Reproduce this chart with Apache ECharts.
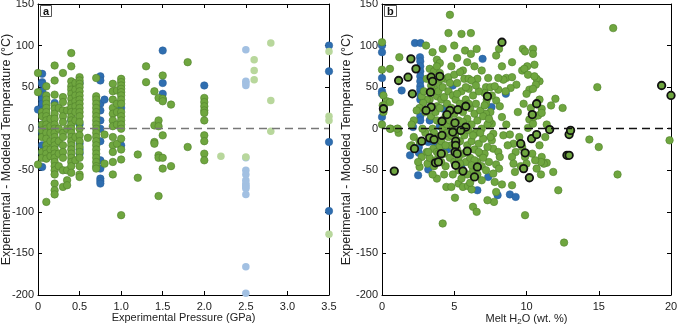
<!DOCTYPE html>
<html>
<head>
<meta charset="utf-8">
<script src="https://cdn.jsdelivr.net/npm/echarts@6/dist/echarts.min.js"></script>
<style>
  html, body { margin: 0; padding: 0; background: #fff; }
  #chart { width: 677px; height: 326px; }
</style>
</head>
<body>
<div id="chart"></div>
<script>
// panel a: pressure (GPa) vs temperature residual (°C)
var pTicks = [0, 0.5, 1.0, 1.5, 2.0, 2.5, 3.0, 3.5];
var wTicks = [0, 5, 10, 15, 20];
var tTicks = [-200, -150, -100, -50, 0, 50, 100, 150];

var aBlue = [
  [0,23],[0.05,66],[0.05,56],[0.05,54],[0.05,45],[0.05,40],[0.05,35],[0.05,30],[0.05,22],[0.05,5],[0.05,0],[0.05,-5],[0.05,-20],[0.05,-29],[0.05,-46],
  [0.2,31],[0.2,-20],[0.4,10],[0.5,55],[0.5,5],[0.5,-18],[0.5,-25],[0.5,-30],
  [0.75,63],[0.75,58],[0.75,30],[0.75,22],[0.75,10],[0.75,0],[0.75,-15],[0.75,-38],[0.75,-48],[0.75,-60],[0.75,-63],[0.75,-66],
  [0.8,35],[1.0,25],[1.0,-20],[1.5,94],[1.5,55],[1.5,42],[1.5,35],[2.0,52],
  [3.5,100],[3.5,69],[3.5,-16],[3.5,-99]
];
var aGreen = [
  [0,67],[0,44],[0,-43],
  [0.05,20],[0.05,15],[0.05,5],[0.05,-2],[0.05,-10],[0.05,-28],[0.05,-35],
  [0.1,51],[0.1,40],[0.1,35],[0.1,30],[0.1,25],[0.1,20],[0.1,15],[0.1,10],[0.1,5],[0.1,0],[0.1,-5],[0.1,-12],[0.1,-20],[0.1,-25],[0.1,-30],[0.1,-36],[0.1,-88],
  [0.15,12],[0.15,3],[0.15,-5],[0.15,-15],[0.15,-25],[0.15,-33],
  [0.2,76],[0.2,58],[0.2,41],[0.2,28],[0.2,24],[0.2,18],[0.2,12],[0.2,5],[0.2,0],[0.2,-5],[0.2,-10],[0.2,-15],[0.2,-20],[0.2,-25],[0.2,-30],[0.2,-35],[0.2,-40],[0.2,-45],[0.2,-50],[0.2,-55],[0.2,-66],[0.2,-74],[0.2,-79],
  [0.25,25],[0.25,0],[0.25,-15],[0.25,-30],[0.25,-45],
  [0.3,67],[0.3,38],[0.3,32],[0.3,22],[0.3,15],[0.3,8],[0.3,-5],[0.3,-10],[0.3,-20],[0.3,-28],[0.3,-35],[0.3,-50],[0.3,-70],
  [0.35,22],[0.35,0],[0.35,-50],[0.35,-62],[0.35,-68],
  [0.4,91],[0.4,75],[0.4,57],[0.4,51],[0.4,47],[0.4,42],[0.4,36],[0.4,30],[0.4,25],[0.4,20],[0.4,14],[0.4,10],[0.4,5],[0.4,0],[0.4,-5],[0.4,-10],[0.4,-15],[0.4,-20],[0.4,-25],[0.4,-30],[0.4,-35],[0.4,-40],[0.4,-45],[0.4,-53],
  [0.45,55],[0.45,47],[0.45,40],[0.45,33],[0.45,27],[0.45,20],[0.45,10],[0.45,-10],[0.45,-38],
  [0.5,62],[0.5,58],[0.5,54],[0.5,50],[0.5,45],[0.5,40],[0.5,35],[0.5,30],[0.5,25],[0.5,20],[0.5,15],[0.5,8],[0.5,0],[0.5,-8],[0.5,-15],[0.5,-22],[0.5,-28],[0.5,-35],[0.5,-45],[0.5,-55],[0.5,-58],
  [0.6,-11],
  [0.7,61],[0.7,39],[0.7,35],[0.7,30],[0.7,25],[0.7,20],[0.7,15],[0.7,10],[0.7,5],[0.7,0],[0.7,-5],[0.7,-10],[0.7,-15],[0.7,-20],[0.7,-25],[0.7,-30],[0.7,-35],[0.7,-40],[0.7,-45],[0.7,-48],
  [0.8,-7],[0.8,-42],
  [0.9,54],[0.9,45],[0.9,35],[0.9,25],[0.9,18],[0.9,10],[0.9,3],[0.9,-10],[0.9,-20],[0.9,-28],[0.9,-40],[0.9,-55],
  [0.95,46],[0.95,30],[0.95,20],[0.95,5],[0.95,-18],
  [1.0,60],[1.0,56],[1.0,52],[1.0,48],[1.0,44],[1.0,40],[1.0,35],[1.0,30],[1.0,20],[1.0,15],[1.0,10],[1.0,5],[1.0,0],[1.0,-12],[1.0,-25],[1.0,-37],[1.0,-104],
  [1.2,-31],[1.2,-59],[1.3,75],[1.3,56],
  [1.4,45],[1.4,4],[1.4,-16],[1.4,-18],
  [1.45,37],[1.45,10],[1.45,3],[1.45,-32],[1.45,-35],[1.45,-81],
  [1.5,64],[1.5,36],[1.5,33],[1.5,-8],[1.5,-35],[1.5,-48],
  [1.6,29],[1.6,-45],[1.8,80],[1.8,-22],
  [2.0,37],[2.0,32],[2.0,27],[2.0,22],[2.0,19],[2.0,10],[2.0,-8],[2.0,-15],[2.0,-30],[2.0,-38]
];
var aLightBlue = [
  [2.5,95],[2.5,57],[2.5,55],[2.5,52],[2.5,-35],[2.5,-50],[2.5,-55],[2.5,-62],[2.5,-66],[2.5,-68],[2.5,-70],[2.5,-72],[2.5,-79],[2.5,-166],[2.5,-198]
];
var aLightGreen = [
  [2.2,-33],[2.5,-34],[2.6,83],[2.6,70],[2.6,59],[2.8,103],[2.8,34],[2.8,-3],[3.5,93],[3.5,15],[3.5,10],[3.5,-127]
];

// panel b: melt H2O (wt. %) vs temperature residual (°C)
var bBlue = [
  [0,100],[0,92],[0,61],[0,45],[0,42],[0,14],[1.36,46],[2.28,103],[2.67,103],[2.63,86],[2.65,81],[2.65,75],[2.65,69],[2.65,63],
  [2.65,57],[2.65,51],[2.65,47],[2.65,41],[2.65,35],[2.65,15],[2.65,10],[2.15,2],[1.94,-32],[2.5,-56],[3.2,-49],[2.55,-29],[2.55,-22],
  [3.2,-16],[4.9,52],[6.96,84],[8.57,42],[7.58,26],[6.6,-74],[7.35,-58],[8.85,-79],[9.25,-82],[8.0,-80],[4.25,24],[3.3,10],[4.0,3],
  [5.05,-10],[4.5,-25],[5.5,-47],[3.6,-16]
];
var bGreen = [
  [0,104],[0,71],[0.1,40],[0.05,28],[0.1,20],[0,5],[0.55,72],[0.6,0],[1.1,0],[1.15,-5],[0.35,33],[1.2,86],
  [4.7,137],[4.6,115],[5.5,114],[6.15,115],[4.2,96],[3.05,100],[3.5,92],[5.75,94],[6.15,90],[6.55,96],[8.1,96],[9.75,96],[10.45,96],
  [10.45,90],[9.9,93],[9.0,80],[5.9,80],[3.8,83],[4.0,79],[3.3,72],[3.6,69],[3.8,75],[4.0,67],[3.65,47],[3.8,39],[4.1,35],[3.8,27],
  [3.3,35],[3.1,35],[2.75,39],[2.85,31],[2.6,25],[2.2,10],[2.05,-20],[2.75,-34],[2.6,-46],[3.15,-42],[3.8,-60],[3.1,-28],[3.55,-24],
  [3.8,-28],[4.0,-21],[4.45,-70],[4.8,-70],[5.05,-83],[5.3,-66],[5.6,-70],[5.95,-69],[6.2,-73],[6.3,-94],[6.55,-100],[0.15,28],
  [0.55,32],[0.55,0],[1.05,0],[1.95,-21],[2.05,5],
  [14.9,50],[16.0,121],[16.3,-55],[14.35,-13],[15.0,-22],[19.9,-14],[20.15,-44],[12.2,-74],[12.6,-137],[9.9,-104],[4.2,-114],
  [12.5,25],[12.0,36],[11.7,28],[11.85,-52],[11.4,-41],[11.05,-34],[11.2,-42],[11.0,-40],[11.0,-55],[11.05,24],[10.9,57],[10.7,60],
  [10.2,47],[10.55,77],[10.05,75],[9.7,70],[9.85,72],[10.1,65],[10.55,63],[10.65,53],[10.45,48],[10.0,42],[10.2,11],[10.1,1],[10.45,6],
  [10.5,14],[10.8,16],[11.05,19],[10.3,25],[9.3,53],[8.9,49],[8.6,61],[8.4,59],[8.05,61],[8.05,47],[8.55,45],[7.35,61],[7.2,50],
  [7.5,50],[7.8,51],[7.1,43],[7.25,35],[7.9,34],[8.15,27],[7.5,20],[7.2,18],[7.6,6],[7.45,9],[8.3,14],[8.4,-8],[8.85,-7],[9.1,-18],
  [9.25,-28],[9.0,-34],[9.1,-42],[9.2,-52],[9.0,-68],[7.7,-6],[7.6,-14],[7.7,-24],[8.05,-28],[8.15,-34],[7.9,-43],[8.1,-48],[7.7,-54],
  [7.8,-64],[7.9,-76],[7.75,-88],[7.3,-86],[8.3,-67],[9.5,-10],[9.7,-22],[9.9,-34],[10.0,-42],[10.6,-38],[10.9,-20],[11.3,-10],
  [9.6,-45],[10.4,-30],[10.7,-48],[8.7,-20],[8.6,5],[9.4,20],[9.8,30],[10.9,35],[11.4,5],[9.0,62],[8.3,75],[7.9,88],[6.6,60],
  [6.4,75],[6.9,70],[5.6,70],[5.2,85],[5.0,100],[4.4,60],[4.8,75],[3.9,55],[3.1,60],[2.9,45],[2.4,22],[2.2,-10],[2.5,-40],[3.0,-5],
  // dense core
  [3.4,15],[3.5,0],[3.6,-5],[3.7,20],[3.8,10],[3.9,-10],[3.9,45],[4.0,25],[4.1,-15],[4.2,0],[4.2,50],[4.3,38],[4.3,-30],[4.4,15],
  [4.4,-45],[4.5,5],[4.5,30],[4.6,-10],[4.6,45],[4.7,-35],[4.7,10],[4.8,25],[4.8,-20],[4.9,40],[4.9,0],[5.0,-40],[5.0,18],[5.1,35],
  [5.1,-5],[5.2,55],[5.2,-25],[5.3,10],[5.3,-50],[5.4,30],[5.4,-15],[5.5,45],[5.5,0],[5.6,-30],[5.6,20],[5.7,60],[5.7,-8],[5.8,35],
  [5.8,-40],[5.9,12],[5.9,-20],[6.0,48],[6.0,-2],[6.1,25],[6.1,-35],[6.2,5],[6.2,-15],[6.3,40],[6.3,-50],[6.4,18],[6.4,-25],[6.5,-5],
  [6.5,30],[6.6,-40],[6.6,10],[6.7,-18],[6.7,45],[6.8,-30],[6.8,22],[6.9,0],[6.9,-45],[7.0,15],[7.0,-12],[7.1,-30],[7.2,30],[7.3,-22],
  [7.3,5],[7.4,-40],[7.5,-10],[4.1,60],[4.6,62],[5.0,65],[5.4,68],[6.0,60],[6.2,58],[5.3,-35],[5.9,-55],[6.6,-55],[4.9,-55],[4.3,-55],
  [3.6,-45],[3.3,-35],[3.7,-38],[4.5,-5],[5.6,8],[6.3,-8],[6.8,-5],[7.1,28],[6.5,52],[5.8,50],[4.7,55],[5.2,42],[4.4,-20],[3.9,-30],
  [5.5,-60],[6.1,-65],[6.9,-62],[7.2,-50],[4.1,-40],[3.5,-55],[3.0,20],[2.8,0],[2.6,-15],[6.0,30],[5.1,-12],[6.4,-38],[7.4,12],[7.6,40],
  [3.2,-28],[3.4,52],[5.9,-28],[6.7,-28],[4.8,-8],[5.4,-42],[6.2,-44],[7.0,-35]
];
var bOutlined = [
  [2.0,84],[1.8,62],[1.15,58],[2.35,72],[2.1,42],[3.4,62],[3.5,57],[4.0,63],[3.35,44],[3.4,26],[3.05,22],[0.1,24],[4.15,9],[4.7,22],
  [5.25,23],[5.8,27],[5.05,7],[5.8,2],[5.45,-2],[4.9,-4],[4.15,-8],[3.3,-11],[2.75,-15],[2.25,-24],[4.1,-30],[3.7,-41],[3.9,-40],
  [5.1,-15],[5.1,-20],[5.05,-28],[5.2,-30],[5.1,-44],[5.6,-51],[5.9,-27],[6.4,-58],[6.6,-46],[7.3,39],[8.3,104],[9.6,-18],[9.9,-29],
  [9.8,-48],[10.2,-59],[10.35,-12],[10.4,17],[10.7,30],[10.7,-7],[11.6,-1],[12.95,-7],[13.05,-2],[12.8,-32],[12.95,-32],[19.35,52],
  [20.0,40],[0.85,-51],[4.5,17],[3.6,-13]
];

var FONT = '"Liberation Sans", Arial, sans-serif';
var ink = '#222';

function dot(fill, border, bw) {
  return { color: fill, borderColor: border, borderWidth: bw, opacity: 1 };
}
function zeroLine(color) {
  return {
    silent: true, symbol: 'none', label: { show: false },
    lineStyle: { color: color, type: [8, 5], width: 1.3 },
    data: [{ yAxis: 0 }]
  };
}
function xAx(grid, min, max, step, fmt, name, pos) {
  var main = pos === 'bottom';
  return {
    gridIndex: grid, type: 'value', min: min, max: max, interval: step, position: pos,
    name: main ? name : '', nameLocation: 'middle', nameGap: 17, nameMoveOverlap: false,
    nameTextStyle: { fontFamily: FONT, fontSize: 11, color: ink },
    axisLine: { show: true, onZero: false, lineStyle: { color: '#000', width: 1 } },
    axisTick: { show: true, inside: true, length: 4, lineStyle: { color: '#000' } },
    axisLabel: { show: main, margin: 6, fontFamily: FONT, fontSize: 11, color: ink, formatter: fmt },
    splitLine: { show: false }
  };
}
function yAx(grid, pos, gap) {
  var main = pos === 'left';
  return {
    gridIndex: grid, type: 'value', min: -200, max: 150, interval: 50, position: pos,
    name: main ? 'Experimental - Modeled Temperature (°C)' : '', nameLocation: 'middle', nameGap: gap, nameMoveOverlap: false,
    nameTextStyle: { fontFamily: FONT, fontSize: 12.5, color: ink },
    axisLine: { show: true, onZero: false, lineStyle: { color: '#000', width: 1 } },
    axisTick: { show: true, inside: true, length: 4, lineStyle: { color: '#000' } },
    axisLabel: { show: main, margin: 4, fontFamily: FONT, fontSize: 11, color: ink },
    splitLine: { show: false }
  };
}
function panelTag(txt, left) {
  return {
    text: txt, left: left, top: 5, padding: [1, 3, 0, 3],
    borderColor: '#555', borderWidth: 1,
    textStyle: { fontFamily: FONT, fontSize: 11, fontWeight: 'bold', color: '#111', lineHeight: 11 }
  };
}

var pFmt = function (v) { return v === 0 ? '0' : v.toFixed(1); };

var chart = echarts.init(document.getElementById('chart'), null, { renderer: 'canvas' });
chart.setOption({
  animation: false,
  backgroundColor: '#fff',
  title: [panelTag('a', 40), panelTag('b', 384)],
  grid: [
    { left: 38, top: 4, width: 291, height: 291, containLabel: false, outerBoundsMode: 'none' },
    { left: 382, top: 4, width: 289, height: 291, containLabel: false, outerBoundsMode: 'none' }
  ],
  xAxis: [
    xAx(0, 0, 3.5, 0.5, pFmt, 'Experimental Pressure (GPa)', 'bottom'),
    xAx(0, 0, 3.5, 0.5, pFmt, '', 'top'),
    xAx(1, 0, 20, 5, null, '{n|Melt H}{s|2}{n|O (wt. %)}', 'bottom'),
    xAx(1, 0, 20, 5, null, '', 'top')
  ],
  yAxis: [yAx(0, 'left', 25), yAx(0, 'right', 0), yAx(1, 'left', 28.5), yAx(1, 'right', 0)],
  series: [
    { type: 'scatter', xAxisIndex: 0, yAxisIndex: 0, data: aBlue, symbolSize: 7.5,
      itemStyle: dot('#2f6eb0', '#285f99', 0.5), markLine: zeroLine('#777') },
    { type: 'scatter', xAxisIndex: 0, yAxisIndex: 0, data: aGreen, symbolSize: 7.5,
      itemStyle: dot('#6fa63f', '#50822c', 0.6) },
    { type: 'scatter', xAxisIndex: 0, yAxisIndex: 0, data: aLightBlue, symbolSize: 7.5,
      itemStyle: dot('#a2c0e2', '#a2c0e2', 0) },
    { type: 'scatter', xAxisIndex: 0, yAxisIndex: 0, data: aLightGreen, symbolSize: 7.5,
      itemStyle: dot('#b8d79c', '#b8d79c', 0) },
    { type: 'scatter', xAxisIndex: 2, yAxisIndex: 2, data: bBlue, symbolSize: 7.5,
      itemStyle: dot('#2f6eb0', '#285f99', 0.5), markLine: zeroLine('#111') },
    { type: 'scatter', xAxisIndex: 2, yAxisIndex: 2, data: bGreen, symbolSize: 7.5,
      itemStyle: dot('#6fa63f', '#50822c', 0.6) },
    { type: 'scatter', xAxisIndex: 2, yAxisIndex: 2, data: bOutlined, symbolSize: 7.5,
      itemStyle: dot('#6fa63f', '#111', 1.8) }
  ]
});
// subscript in the H2O axis name
chart.setOption({
  xAxis: [{}, {}, { nameTextStyle: { rich: {
    n: { fontFamily: FONT, fontSize: 11, color: ink },
    s: { fontFamily: FONT, fontSize: 8, color: ink, verticalAlign: 'bottom', padding: [6, 0, 0, 0] }
  } } }, {}]
});
</script>
</body>
</html>
